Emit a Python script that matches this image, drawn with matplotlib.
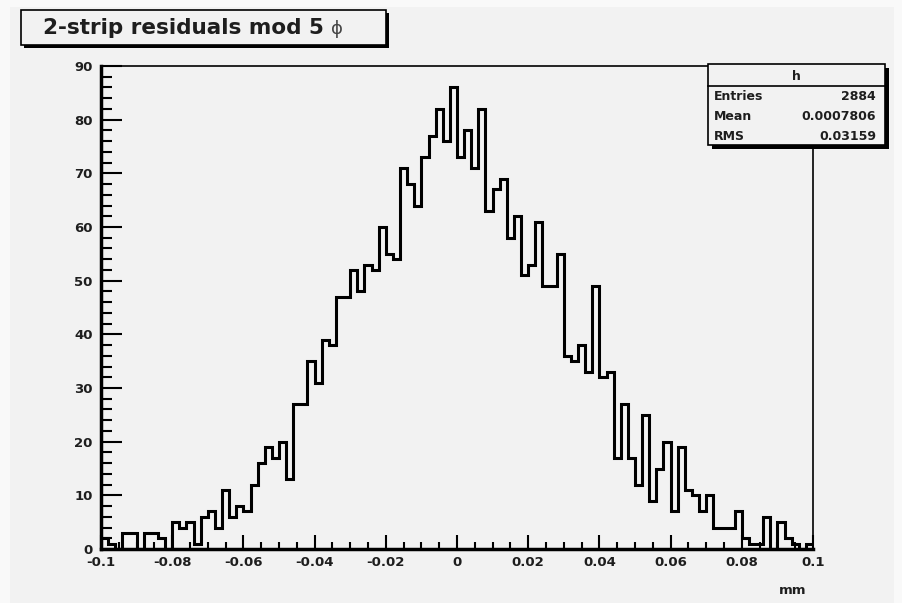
import numpy as np
import matplotlib
matplotlib.use("Agg")
import matplotlib.pyplot as plt
from matplotlib.patches import Rectangle
from matplotlib.ticker import MultipleLocator

plt.rcParams['font.family'] = ['DejaVu Sans']

# histogram "h": 100 bins on [-0.1, 0.1]
x_min, x_max = -0.1, 0.1
counts = [2, 1, 0, 3, 3, 0, 3, 3, 2, 0, 5, 4, 5, 1, 6, 7, 4,
          11, 6, 8, 7, 12, 16, 19, 17, 20, 13, 27, 27,
          35, 31, 39, 38, 47, 47, 52, 48, 53, 52, 60, 55, 54,
          71, 68, 64, 73, 77, 82, 76, 86, 73, 78, 71, 82, 63, 67, 69, 58, 62, 51, 53, 61,
          49, 49, 55, 36, 35, 38, 33, 49, 32, 33, 17, 27, 17, 12, 25, 9, 15, 20,
          7, 19, 11, 10, 7, 10, 4, 4, 4, 7, 2, 1, 1, 6, 0, 5, 2, 1, 0, 1]
xticks = [-0.1, -0.08, -0.06, -0.04, -0.02, 0, 0.02, 0.04, 0.06, 0.08, 0.1]
xticklabels = ['-0.1', '-0.08', '-0.06', '-0.04', '-0.02', '0',
               '0.02', '0.04', '0.06', '0.08', '0.1']
yticks = [0, 10, 20, 30, 40, 50, 60, 70, 80, 90]

title = '2-strip residuals mod 5'
stats_name = 'h'
stats_rows = [('Entries', '2884'), ('Mean', '0.0007806'), ('RMS', '0.03159')]

W, H = 903, 603
bg = '#f2f2f2'
txt = '#1e1e1e'
fig = plt.figure(figsize=(W / 100, H / 100), dpi=100, facecolor='#f9f9f9')

# canvas background (slightly lighter border on top/left like the screenshot)
bgax = fig.add_axes([0, 0, 1, 1], zorder=0)
bgax.set_xlim(0, W)
bgax.set_ylim(H, 0)
bgax.axis('off')
bgax.add_patch(Rectangle((10, 7), 884, 596, facecolor=bg, edgecolor='none'))

# frame
L, R, T, B = 101, 813, 66, 549
ax = fig.add_axes([L / W, 1 - B / H, (R - L) / W, (B - T) / H], zorder=1)
ax.set_facecolor(bg)
edges = np.linspace(x_min, x_max, len(counts) + 1)
ax.stairs(counts, edges, color='black', lw=2.2, baseline=0)
ax.set_xlim(x_min, x_max)
ax.set_ylim(0, 90)

for side in ['left', 'bottom']:
    ax.spines[side].set_linewidth(2.5)
for side in ['top', 'right']:
    ax.spines[side].set_linewidth(1.2)

ax.set_xticks(xticks)
ax.set_xticklabels(xticklabels)
ax.set_yticks(yticks)
ax.xaxis.set_minor_locator(MultipleLocator(0.005))
ax.yaxis.set_minor_locator(MultipleLocator(2))
ax.tick_params(axis='x', which='major', direction='in', length=10, width=1.5, pad=5)
ax.tick_params(axis='x', which='minor', direction='in', length=5, width=1.5)
ax.tick_params(axis='y', which='major', direction='in', length=15, width=1.5, pad=6)
ax.tick_params(axis='y', which='minor', direction='in', length=8, width=1.5)
for lab in ax.get_xticklabels() + ax.get_yticklabels():
    lab.set_fontsize(9.5)
    lab.set_fontweight('bold')
    lab.set_color(txt)

# overlay for title box, stats box and axis title (pixel coordinates)
ov = fig.add_axes([0, 0, 1, 1], zorder=2)
ov.set_xlim(0, W)
ov.set_ylim(H, 0)
ov.axis('off')

ov.text(806, 591, 'mm', ha='right', va='center', fontsize=9.5, fontweight='bold', color=txt)

# title box with shadow
ov.add_patch(Rectangle((24, 13), 365, 35, facecolor='black', edgecolor='none'))
ov.add_patch(Rectangle((21, 10), 365, 35, facecolor=bg, edgecolor='black', lw=1.2))
t = ov.text(43, 28, title, ha='left', va='center', fontsize=15.5, fontweight='bold', color=txt)
fig.canvas.draw()
bb = t.get_window_extent().transformed(ov.transData.inverted())
ov.text(bb.x1 + 7, 29, '\u03d5', ha='left', va='center', fontsize=13, color='#444444')

# stats box with shadow
sx, sy, sw, sh = 708, 64, 177, 81
ov.add_patch(Rectangle((sx + 4, sy + 4), sw, sh, facecolor='black', edgecolor='none'))
ov.add_patch(Rectangle((sx, sy), sw, sh, facecolor=bg, edgecolor='black', lw=1.2))
ov.plot([sx, sx + sw], [sy + 22, sy + 22], color='black', lw=1.2)
ov.text(sx + sw / 2, sy + 12, stats_name, ha='center', va='center', fontsize=9, fontweight='bold', color=txt)
for i, (k, v) in enumerate(stats_rows):
    yy = sy + 33 + i * 20
    ov.text(sx + 6, yy, k, ha='left', va='center', fontsize=9, fontweight='bold', color=txt)
    ov.text(sx + sw - 9, yy, v, ha='right', va='center', fontsize=9, fontweight='bold', color=txt)

fig.savefig('out.png', dpi=100, facecolor=fig.get_facecolor())
